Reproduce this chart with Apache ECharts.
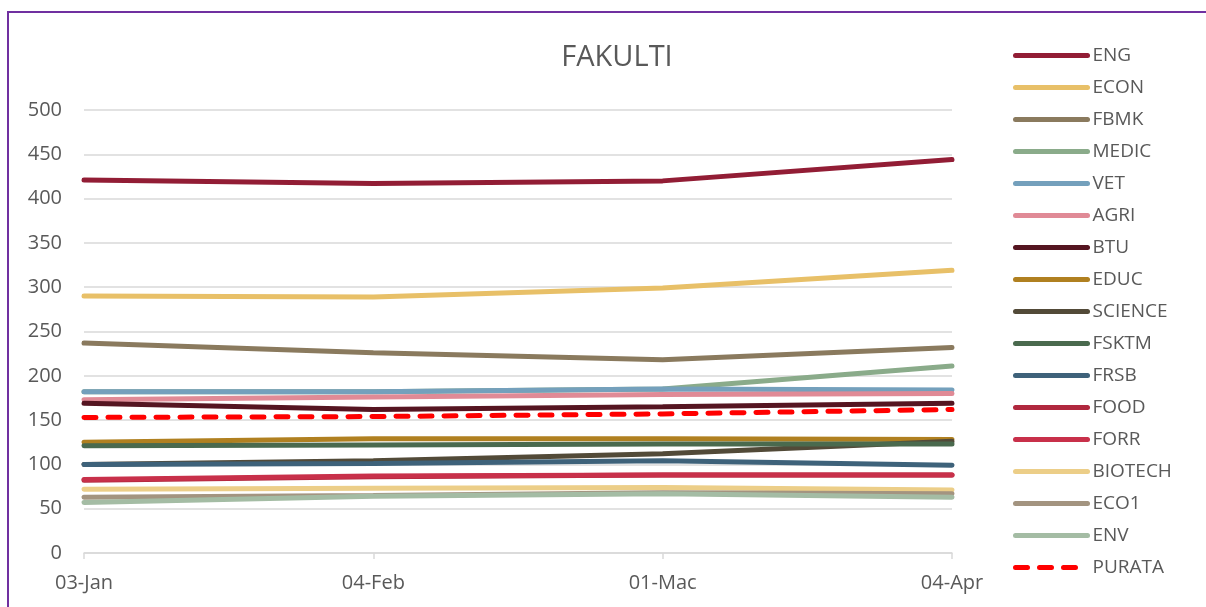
<!DOCTYPE html>
<html>
<head>
<meta charset="utf-8">
<script src="https://cdn.jsdelivr.net/npm/echarts@6/dist/echarts.min.js"></script>
<style>
  html, body { margin: 0; padding: 0; background: #fff; }
  #frame { position: absolute; left: 7px; top: 11px; right: -10px; bottom: -10px;
           border-left: 2px solid #7030a0; border-top: 2px solid #7030a0; }
  #chart { position: absolute; left: 0; top: 0; width: 1206px; height: 607px; }
</style>
</head>
<body>
<div id="frame"></div>
<div id="chart"></div>
<script>
// data
const dates = ['03-Jan', '04-Feb', '01-Mac', '04-Apr'];
const faculties = ['ENG', 'ECON', 'FBMK', 'MEDIC', 'VET', 'AGRI', 'BTU', 'EDUC', 'SCIENCE',
  'FSKTM', 'FRSB', 'FOOD', 'FORR', 'BIOTECH', 'ECO1', 'ENV', 'PURATA'];
const eng = [421, 417, 420, 444];
const econ = [290, 289, 299, 319];
const fbmk = [237, 226, 218, 232];
const medic = [182, 182, 185, 211];
const vet = [182, 182, 185, 184];
const agri = [173, 176, 179, 180];
const btu = [169, 162, 165, 169];
const educ = [125, 129, 129, 128];
const science = [100, 104, 112, 126];
const fsktm = [121, 122, 123, 123];
const frsb = [100, 101, 104, 99];
const food = [82, 86, 88, 88];
const forr = [83, 87, 88, 88];
const biotech = [72, 73, 74, 71];
const eco1 = [63, 65, 68, 67];
const env = [57, 64, 67, 63];
const purata = [153, 154, 157, 162];

const values = [eng, econ, fbmk, medic, vet, agri, btu, educ, science, fsktm, frsb,
  food, forr, biotech, eco1, env, purata];
const colors = ['#921d35', '#e8c068', '#8a7a5e', '#8aab8a', '#74a0bc', '#e08a96', '#551521',
  '#b08020', '#524a38', '#4a6a4e', '#3e627a', '#b0283e', '#c8304a', '#ecce88', '#a39480',
  '#a4bca4', '#ff0000'];

const textColor = '#595959';
const font = 'Open Sans';

const chart = echarts.init(document.getElementById('chart'));

const series = faculties.map((name, i) => ({
  name: name,
  type: 'line',
  data: values[i],
  symbol: 'none',
  lineStyle: {
    color: colors[i],
    width: 5,
    type: name === 'PURATA' ? [12, 12] : 'solid',
    cap: 'round'
  },
  itemStyle: { color: colors[i] },
  z: 2 + i
}));

chart.setOption({
  animation: false,
  title: {
    text: 'FAKULTI',
    left: 612,
    top: 38,
    textAlign: 'center',
    textStyle: { color: textColor, fontFamily: font, fontSize: 29, fontWeight: 'normal' }
  },
  legend: {
    orient: 'vertical',
    left: 1008,
    top: 41,
    itemWidth: 72,
    itemHeight: 10,
    itemGap: 13,
    itemStyle: { opacity: 0 },
    lineStyle: { width: 5, cap: 'round' },
    textStyle: { color: textColor, fontFamily: font, fontSize: 19 },
    data: faculties
  },
  grid: { left: 84, right: 254, top: 110, bottom: 54 },
  xAxis: {
    type: 'category',
    data: dates,
    boundaryGap: false,
    axisLine: { lineStyle: { color: '#d9d9d9', width: 1.5 } },
    axisTick: { show: true, length: 6, lineStyle: { color: '#d9d9d9', width: 1.5 } },
    axisLabel: { color: textColor, fontFamily: font, fontSize: 20, margin: 20 },
    splitLine: { show: false }
  },
  yAxis: {
    type: 'value',
    min: 0,
    max: 500,
    interval: 50,
    axisLine: { show: false },
    axisTick: { show: false },
    axisLabel: { color: textColor, fontFamily: font, fontSize: 20, margin: 22 },
    splitLine: { lineStyle: { color: '#d9d9d9', width: 1.5 } }
  },
  series: series
});
</script>
</body>
</html>
